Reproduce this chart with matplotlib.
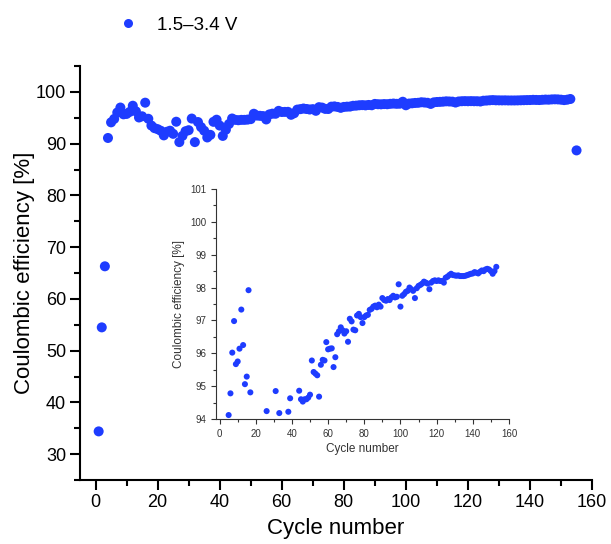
import numpy as np
import matplotlib
matplotlib.use("Agg")
import matplotlib.pyplot as plt
from matplotlib.lines import Line2D
from matplotlib.ticker import MultipleLocator

plt.rcParams['font.family'] = ['Liberation Sans', 'DejaVu Sans']

# coulombic efficiency per cycle (cycles 1..153, then 155)
ce_early = [34.4, 54.5, 66.3, 91.1, 94.12, 94.78, 96.02, 96.98, 95.67, 95.75,
            96.14, 97.33, 96.25, 95.06, 95.29, 97.92, 94.81, 93.5, 93.0, 92.8,
            92.5, 91.6, 92.3, 92.5, 91.9, 94.24, 90.3, 91.5, 92.4, 92.6,
            94.85, 90.3, 94.18, 93.2, 92.5, 91.2, 91.7, 94.22, 94.63, 93.5,
            91.5, 92.7, 93.8]
ce_mid = [94.86, 94.6, 94.53, 94.6, 94.6, 94.65, 94.74, 95.78, 95.43, 95.38,
          95.33, 94.68, 95.65, 95.8, 95.78, 96.34, 96.12, 96.14, 96.15, 95.58,
          95.88, 96.58, 96.67, 96.79, 96.7, 96.6, 96.67, 96.35, 97.05, 96.97,
          96.72, 96.7, 97.15, 97.2, 97.1, 96.92, 97.1, 97.15, 97.17, 97.32,
          97.35, 97.42, 97.45, 97.4, 97.48, 97.42, 97.68, 97.62, 97.6, 97.65,
          97.62, 97.7, 97.75, 97.7, 97.72, 98.1, 97.42, 97.75, 97.8, 97.87]
ce_late = [97.9, 98.0, 97.95, 97.9, 97.68, 97.98, 98.05, 98.08, 98.12, 98.18,
           98.15, 98.12, 97.95, 98.15, 98.2, 98.22, 98.2, 98.22, 98.2, 98.2,
           98.15, 98.3, 98.33, 98.38, 98.42, 98.38, 98.37, 98.36, 98.37, 98.35,
           98.35, 98.35, 98.36, 98.38, 98.4, 98.42, 98.43, 98.47, 98.45, 98.43,
           98.48, 98.52, 98.5, 98.55, 98.57, 98.55, 98.5, 98.42, 98.5, 98.63]
last_cycle = 155
last_ce = 88.7

ce = ce_early + ce_mid + ce_late
cycles = list(range(1, len(ce) + 1))
cyc_all = cycles + [last_cycle]
ce_all = ce + [last_ce]

blue = '#1e3cff'

fig = plt.figure(figsize=(6.11, 5.44), dpi=100)
ax = fig.add_axes([0.131, 0.1176, 0.838, 0.761])
ax.scatter(cyc_all, ce_all, s=52, color=blue, edgecolors='none', zorder=3)
ax.set_xlim(-5, 160)
ax.set_ylim(25, 105)
ax.xaxis.set_major_locator(MultipleLocator(20))
ax.xaxis.set_minor_locator(MultipleLocator(10))
ax.yaxis.set_major_locator(MultipleLocator(10))
ax.yaxis.set_minor_locator(MultipleLocator(5))
ax.set_yticks(range(30, 101, 10))
for s in ['top', 'right']:
    ax.spines[s].set_visible(False)
for s in ['left', 'bottom']:
    ax.spines[s].set_linewidth(1.5)
ax.tick_params(which='major', direction='out', length=7, width=1.5, labelsize=13, pad=3)
ax.tick_params(which='minor', direction='out', length=4, width=1.5)
ax.set_xlabel('Cycle number', fontsize=16, labelpad=5)
ax.set_ylabel('Coulombic efficiency [%]', fontsize=16, labelpad=1)

handle = Line2D([], [], marker='o', linestyle='none', color=blue,
                markersize=6.5, markeredgewidth=0)
fig.legend([handle], ['1.5\u20133.4 V'], loc='center left',
           bbox_to_anchor=(0.194, 0.954), bbox_transform=fig.transFigure,
           frameon=False, fontsize=13.5, handlelength=1, handletextpad=1.05,
           borderpad=0, borderaxespad=0)

# inset zoom
ins = fig.add_axes([0.3535, 0.2298, 0.4795, 0.4228])
ins.scatter(cycles, ce, s=19, color=blue, edgecolors='none', zorder=3)
ins.set_xlim(-2, 160)
ins.set_ylim(94, 101)
ins.xaxis.set_major_locator(MultipleLocator(20))
ins.xaxis.set_minor_locator(MultipleLocator(10))
ins.yaxis.set_major_locator(MultipleLocator(1))
ins.yaxis.set_minor_locator(MultipleLocator(0.5))
for s in ['top', 'right']:
    ins.spines[s].set_visible(False)
for s in ['left', 'bottom']:
    ins.spines[s].set_color('#333333')
ins.tick_params(which='major', direction='out', length=3.5, width=0.8,
                labelsize=7, colors='#333333')
ins.tick_params(which='minor', direction='out', length=2, width=0.8,
                colors='#333333')
ins.set_xlabel('Cycle number', fontsize=8.5, color='#333333', labelpad=3)
ins.set_ylabel('Coulombic efficiency [%]', fontsize=8.5, color='#333333', labelpad=4)

fig.savefig('out.png', dpi=100)
